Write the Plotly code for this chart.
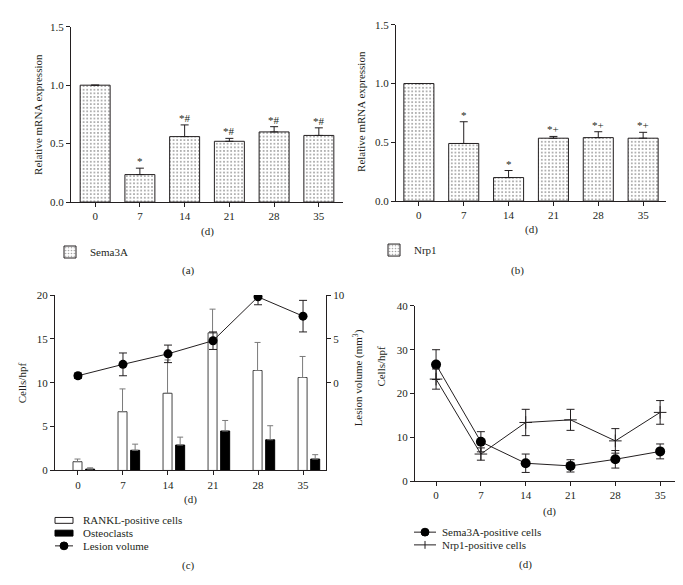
import plotly.graph_objects as go

# ---------------- data ----------------
days = ["0", "7", "14", "21", "28", "35"]
idx = list(range(len(days)))

sema_mrna = [1.0, 0.235, 0.56, 0.52, 0.60, 0.57]
sema_mrna_err = [0.0, 0.055, 0.10, 0.025, 0.045, 0.065]
sema_sig = ["", "*", "*#", "*#", "*#", "*#"]

nrp_mrna = [1.0, 0.49, 0.20, 0.535, 0.54, 0.535]
nrp_mrna_err = [0.0, 0.185, 0.06, 0.015, 0.05, 0.05]
nrp_sig = ["", "*", "*", "*+", "*+", "*+"]

rankl = [1.0, 6.7, 8.8, 15.7, 11.4, 10.6]
rankl_err = [0.3, 2.6, 3.8, 2.7, 3.2, 2.4]
osteo = [0.15, 2.3, 2.9, 4.5, 3.5, 1.3]
osteo_err = [0.15, 0.7, 0.9, 1.2, 1.6, 0.5]
lesion = [0.8, 2.1, 3.3, 4.8, 9.8, 7.6]
lesion_err = [0.3, 1.3, 1.0, 1.0, 0.9, 1.8]

sema_cells = [26.6, 9.0, 4.1, 3.5, 5.0, 6.8]
sema_cells_err = [3.4, 2.3, 2.1, 1.4, 2.0, 1.7]
nrp_cells = [23.3, 6.2, 13.4, 14.0, 9.2, 15.7]
nrp_cells_err = [2.3, 1.4, 3.0, 2.4, 2.8, 2.7]

# ---------------- style ----------------
W, H = 683, 585
INK = "#231f20"
GREY = "#7a7a7a"
FONT = "Liberation Serif"


def px(x):
    return x / W


def py(y):
    return 1 - y / H


dots = dict(shape=".", fgcolor="#3a3a3a", bgcolor="white", size=3.6, solidity=0.22)

fig = go.Figure()

# (a) Sema3A mRNA
fig.add_trace(go.Bar(
    x=idx, y=sema_mrna, width=0.67, name="Sema3A", legend="legend",
    marker=dict(color="white", line=dict(color=INK, width=1), pattern=dots),
    error_y=dict(type="data", symmetric=False, array=sema_mrna_err,
                 arrayminus=[0] * 6, color=INK, thickness=1, width=4),
    xaxis="x", yaxis="y"))

# (b) Nrp1 mRNA
fig.add_trace(go.Bar(
    x=idx, y=nrp_mrna, width=0.67, name="Nrp1", legend="legend2",
    marker=dict(color="white", line=dict(color=INK, width=1), pattern=dots),
    error_y=dict(type="data", symmetric=False, array=nrp_mrna_err,
                 arrayminus=[0] * 6, color=INK, thickness=1, width=4),
    xaxis="x2", yaxis="y2"))

# (c) RANKL / osteoclasts / lesion volume
fig.add_trace(go.Bar(
    x=idx, y=rankl, width=0.2, offset=-0.11, name="RANKL-positive cells",
    showlegend=False,
    marker=dict(color="white", line=dict(color="#444444", width=1)),
    error_y=dict(type="data", symmetric=False, array=rankl_err,
                 arrayminus=[0] * 6, color=GREY, thickness=1, width=3),
    xaxis="x3", yaxis="y3"))
fig.add_trace(go.Bar(
    x=idx, y=osteo, width=0.2, offset=0.17, name="Osteoclasts",
    showlegend=False,
    marker=dict(color="black", line=dict(color="black", width=1)),
    error_y=dict(type="data", symmetric=False, array=osteo_err,
                 arrayminus=[0] * 6, color=GREY, thickness=1, width=3),
    xaxis="x3", yaxis="y4"))
fig.add_trace(go.Scatter(
    x=idx, y=lesion, mode="lines+markers", name="Lesion volume",
    showlegend=False,
    line=dict(color=INK, width=1),
    marker=dict(color="black", size=9),
    error_y=dict(type="data", array=lesion_err, color=INK, thickness=1, width=4),
    xaxis="x3", yaxis="y5"))

# (d) Sema3A / Nrp1 positive cells
fig.add_trace(go.Scatter(
    x=idx, y=sema_cells, mode="lines+markers", name="Sema3A-positive cells",
    showlegend=False,
    line=dict(color=INK, width=1),
    marker=dict(color="black", size=10),
    error_y=dict(type="data", array=sema_cells_err, color=INK, thickness=1, width=4),
    xaxis="x4", yaxis="y6"))
fig.add_trace(go.Scatter(
    x=idx, y=nrp_cells, mode="lines+markers", name="Nrp1-positive cells",
    showlegend=False,
    line=dict(color=INK, width=1),
    marker=dict(symbol="cross-thin", size=9, line=dict(color=INK, width=1)),
    error_y=dict(type="data", array=nrp_cells_err, color=INK, thickness=1, width=4),
    xaxis="x4", yaxis="y6"))

# ---------------- axes ----------------
tickfont = dict(family=FONT, size=11, color=INK)


def xax(domain, rng, anchor):
    return dict(domain=domain, range=rng, anchor=anchor, tickvals=idx, ticktext=days,
                showline=True, linecolor=INK, linewidth=1, ticks="outside",
                ticklen=4, tickcolor=INK, showgrid=False, zeroline=False,
                tickfont=tickfont, fixedrange=True)


def yax(domain, rng, anchor, tickvals, ticktext=None, **kw):
    d = dict(domain=domain, range=rng, anchor=anchor, tickvals=tickvals,
             showline=True, linecolor=INK, linewidth=1, ticks="outside",
             ticklen=4, tickcolor=INK, showgrid=False, zeroline=False,
             tickfont=tickfont, fixedrange=True)
    if ticktext is not None:
        d["ticktext"] = ticktext
    d.update(kw)
    return d


fig.update_layout(
    xaxis=xax([px(63), px(335)], [-0.54, 5.54], "y"),
    yaxis=yax([py(192), py(13)], [0, 1.5], "x", [0, 0.5, 1.0, 1.5],
              ["0.0", "0.5", "1.0", "1.5"]),
    xaxis2=xax([px(388), px(658)], [-0.51, 5.51], "y2"),
    yaxis2=yax([py(191), py(11)], [0, 1.5], "x2", [0, 0.5, 1.0, 1.5],
               ["0.0", "0.5", "1.0", "1.5"]),
    xaxis3=xax([px(47), px(318)], [-0.51, 5.51], "y3"),
    yaxis3=yax([py(466), py(287)], [0, 20], "x3", [0, 5, 10, 15, 20]),
    yaxis4=dict(domain=[py(466), py(287)], range=[0, 20], anchor="x3",
                overlaying="y3", visible=False, fixedrange=True),
    yaxis5=yax([py(466), py(287)], [-10, 10], "x3", [0, 5, 10], overlaying="y3",
               side="right"),
    xaxis4=xax([px(407), px(675)], [-0.47, 5.51], "y6"),
    yaxis6=yax([py(477), py(298)], [0, 40], "x4", [0, 10, 20, 30, 40]),
)

# ---------------- annotations ----------------
ann = []
for i in idx:
    if sema_sig[i]:
        ann.append(dict(x=i, y=sema_mrna[i] + sema_mrna_err[i], xref="x", yref="y",
                        text=sema_sig[i], showarrow=False, yanchor="bottom", yshift=-1,
                        font=dict(family=FONT, size=11, color=INK)))
    if nrp_sig[i]:
        ann.append(dict(x=i, y=nrp_mrna[i] + nrp_mrna_err[i], xref="x2", yref="y2",
                        text=nrp_sig[i], showarrow=False, yanchor="bottom", yshift=-1,
                        font=dict(family=FONT, size=11, color=INK)))


def note(x, y, text, angle=0, size=11, xanchor="center"):
    ann.append(dict(x=px(x), y=py(y), xref="paper", yref="paper", text=text,
                    showarrow=False, textangle=angle, xanchor=xanchor, yanchor="middle",
                    font=dict(family=FONT, size=size, color=INK)))


note(30, 103, "Relative mRNA expression", -90)
note(353, 100, "Relative mRNA expression", -90)
note(14, 377, "Cells/hpf", -90)
note(350, 372, "Lesion volume (mm<sup>3</sup>)", -90)
note(373, 360, "Cells/hpf", -90)

note(199, 222, "(d)")
note(523, 220, "(d)")
note(182, 496, "(d)")
note(541, 508, "(d)")

note(180, 262, "(a)")
note(509, 262, "(b)")
note(180, 563, "(c)")
note(517, 562, "(d)")

# manual legends for (c) and (d)
note(73, 517, "RANKL-positive cells", xanchor="left")
note(73, 530, "Osteoclasts", xanchor="left")
note(73, 543, "Lesion volume", xanchor="left")
note(432, 529, "Sema3A-positive cells", xanchor="left")
note(432, 542, "Nrp1-positive cells", xanchor="left")

shapes = [
    dict(type="rect", xref="paper", yref="paper", x0=px(47), x1=px(65), y0=py(520), y1=py(514),
         line=dict(color=INK, width=1), fillcolor="white"),
    dict(type="rect", xref="paper", yref="paper", x0=px(47), x1=px(65), y0=py(533), y1=py(527),
         line=dict(color="black", width=1), fillcolor="black"),
    dict(type="line", xref="paper", yref="paper", x0=px(47), x1=px(65), y0=py(543), y1=py(543),
         line=dict(color=INK, width=1)),
    dict(type="circle", xref="paper", yref="paper", x0=px(52), x1=px(60), y0=py(547), y1=py(539),
         line=dict(color="black", width=1), fillcolor="black"),
    dict(type="line", xref="paper", yref="paper", x0=px(406), x1=px(428), y0=py(529), y1=py(529),
         line=dict(color=INK, width=1)),
    dict(type="circle", xref="paper", yref="paper", x0=px(413), x1=px(421), y0=py(533), y1=py(525),
         line=dict(color="black", width=1), fillcolor="black"),
    dict(type="line", xref="paper", yref="paper", x0=px(406), x1=px(428), y0=py(542), y1=py(542),
         line=dict(color=INK, width=1)),
    dict(type="line", xref="paper", yref="paper", x0=px(417), x1=px(417), y0=py(538), y1=py(546),
         line=dict(color=INK, width=1)),
]

legend_common = dict(font=dict(family=FONT, size=11, color=INK), bgcolor="rgba(0,0,0,0)",
                     xanchor="left", yanchor="middle", borderwidth=0)

fig.update_layout(
    width=W, height=H, margin=dict(l=0, r=0, t=0, b=0),
    paper_bgcolor="white", plot_bgcolor="white",
    barmode="overlay", showlegend=True,
    font=dict(family=FONT, size=11, color=INK),
    legend=dict(x=px(42), y=py(243), **legend_common),
    legend2=dict(x=px(366), y=py(241), **legend_common),
    annotations=ann, shapes=shapes,
)

fig.write_html("out.html")
